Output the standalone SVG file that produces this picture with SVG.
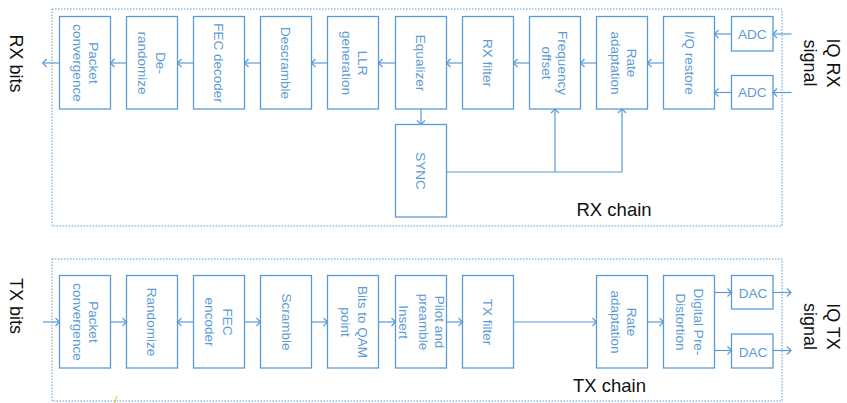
<svg xmlns="http://www.w3.org/2000/svg" width="847" height="403" viewBox="0 0 847 403">
<defs>
<style>
.bg{fill:#ffffff}
.frame{fill:none;stroke:#5b9bd5;stroke-width:1;stroke-dasharray:1.5 1.5}
.box{fill:#ffffff;stroke:#5b9bd5;stroke-width:1.3}
.lbl{font-family:"Liberation Sans",Arial,sans-serif;font-size:13.5px;fill:#5b9bd5;text-anchor:middle}
.big{font-family:"Liberation Sans",Arial,sans-serif;font-size:18.5px;fill:#111111}
.bigm{font-family:"Liberation Sans",Arial,sans-serif;font-size:18px;fill:#111111;text-anchor:middle}
.con{fill:none;stroke:#5b9bd5;stroke-width:1.2}
</style>
<marker id="arr" markerUnits="userSpaceOnUse" markerWidth="12" markerHeight="12" viewBox="-6 -6 12 12" refX="0" refY="0" orient="auto">
<path d="M -4 -4 L 0 0 L -4 4" fill="none" stroke="#5b9bd5" stroke-width="1.2"/>
</marker>
</defs>
<rect class="bg" x="0" y="0" width="847" height="403"/>

<g id="frames">
<rect class="frame" x="52" y="9" width="730" height="217"/>
<rect class="frame" x="52" y="259" width="730" height="142"/>
</g>

<g id="labels">
<text class="bigm" transform="translate(10,63.5) rotate(90)">RX bits</text>
<text class="bigm" transform="translate(10,306) rotate(90)">TX bits</text>
<text class="bigm" transform="translate(826.5,63) rotate(90)"><tspan x="0" y="0">IQ RX</tspan><tspan x="0" y="22.5">signal</tspan></text>
<text class="bigm" transform="translate(826.5,326.5) rotate(90)"><tspan x="0" y="0">IQ TX</tspan><tspan x="0" y="22.5">signal</tspan></text>
<text class="big" x="576.5" y="216">RX chain</text>
<text class="big" x="573" y="391.5">TX chain</text>
</g>

<g id="rx-packet"><rect class="box" x="59.5" y="16.5" width="51" height="92.5"/><text class="lbl" transform="translate(85,63) rotate(90)"><tspan x="0" y="-4.3">Packet</tspan><tspan x="0" y="11.7">convergence</tspan></text></g>
<g id="rx-derandomize"><rect class="box" x="126.5" y="16.5" width="51" height="92.5"/><text class="lbl" transform="translate(152,63) rotate(90)"><tspan x="0" y="-4">De-</tspan><tspan x="0" y="14.5">randomize</tspan></text></g>
<g id="rx-fec-decoder"><rect class="box" x="193.5" y="16.5" width="51" height="92.5"/><text class="lbl" transform="translate(219,63) rotate(90)" y="5.5">FEC decoder</text></g>
<g id="rx-descramble"><rect class="box" x="260.5" y="16.5" width="51" height="92.5"/><text class="lbl" transform="translate(286,63) rotate(90)" y="4.7">Descramble</text></g>
<g id="rx-llr"><rect class="box" x="327.5" y="16.5" width="51" height="92.5"/><text class="lbl" transform="translate(353,63) rotate(90)"><tspan x="0" y="-4.8">LLR</tspan><tspan x="0" y="11.4">generation</tspan></text></g>
<g id="rx-equalizer"><rect class="box" x="395.5" y="16.5" width="51" height="92.5"/><text class="lbl" transform="translate(421,63) rotate(90)" y="5">Equalizer</text></g>
<g id="rx-filter"><rect class="box" x="462.5" y="16.5" width="51" height="92.5"/><text class="lbl" transform="translate(488,63) rotate(90)" y="4.7">RX filter</text></g>
<g id="rx-freq-offset"><rect class="box" x="529.5" y="16.5" width="51" height="92.5"/><text class="lbl" transform="translate(555,63) rotate(90)"><tspan x="0" y="-3.3">Frequency</tspan><tspan x="0" y="12.8">offset</tspan></text></g>
<g id="rx-rate"><rect class="box" x="596.5" y="16.5" width="51" height="92.5"/><text class="lbl" transform="translate(622,63) rotate(90)"><tspan x="0" y="-4.7">Rate</tspan><tspan x="0" y="11.5">adaptation</tspan></text></g>
<g id="rx-iq-restore"><rect class="box" x="663.5" y="16.5" width="51" height="92.5"/><text class="lbl" transform="translate(689.5,63) rotate(90)" y="4.7">I/Q restore</text></g>
<g id="rx-adc1"><rect class="box" x="731.5" y="16.5" width="41.5" height="34.5"/><text class="lbl" x="752.3" y="39">ADC</text></g>
<g id="rx-adc2"><rect class="box" x="731.5" y="75.5" width="41.5" height="33.5"/><text class="lbl" x="752.3" y="97">ADC</text></g>
<g id="rx-sync"><rect class="box" x="395.5" y="124.5" width="51" height="92.5"/><text class="lbl" transform="translate(421,171) rotate(90)" y="5">SYNC</text></g>

<g id="tx-packet"><rect class="box" x="59.5" y="275.5" width="51" height="92.5"/><text class="lbl" transform="translate(85,322) rotate(90)"><tspan x="0" y="-3.8">Packet</tspan><tspan x="0" y="12.2">convergence</tspan></text></g>
<g id="tx-randomize"><rect class="box" x="126.5" y="275.5" width="51" height="92.5"/><text class="lbl" transform="translate(152,322) rotate(90)" y="5.3">Randomize</text></g>
<g id="tx-fec-encoder"><rect class="box" x="193.5" y="275.5" width="51" height="92.5"/><text class="lbl" transform="translate(219,322) rotate(90)"><tspan x="0" y="-4.3">FEC</tspan><tspan x="0" y="14">encoder</tspan></text></g>
<g id="tx-scramble"><rect class="box" x="260.5" y="275.5" width="51" height="92.5"/><text class="lbl" transform="translate(286,322) rotate(90)" y="4.5">Scramble</text></g>
<g id="tx-bits-qam"><rect class="box" x="327.5" y="275.5" width="51" height="92.5"/><text class="lbl" transform="translate(353,322) rotate(90)"><tspan x="0" y="-4.8">Bits to QAM</tspan><tspan x="0" y="12.5">point</tspan></text></g>
<g id="tx-pilot"><rect class="box" x="395.5" y="275.5" width="51" height="92.5"/><text class="lbl" transform="translate(421,322) rotate(90)"><tspan x="0" y="-14">Pilot and</tspan><tspan x="0" y="2">preamble</tspan><tspan x="0" y="22.5">Insert</tspan></text></g>
<g id="tx-filter"><rect class="box" x="462.5" y="275.5" width="51" height="92.5"/><text class="lbl" transform="translate(488,322) rotate(90)" y="4.7">TX filter</text></g>
<g id="tx-rate"><rect class="box" x="596.5" y="275.5" width="51" height="92.5"/><text class="lbl" transform="translate(622,322) rotate(90)"><tspan x="0" y="-4.7">Rate</tspan><tspan x="0" y="11.5">adaptation</tspan></text></g>
<g id="tx-dpd"><rect class="box" x="663.5" y="275.5" width="51" height="92.5"/><text class="lbl" transform="translate(689.5,322) rotate(90)"><tspan x="0" y="-4.6">Digital Pre-</tspan><tspan x="0" y="14">Distortion</tspan></text></g>
<g id="tx-dac1"><rect class="box" x="731.5" y="275.5" width="41.5" height="33.5"/><text class="lbl" x="753" y="298">DAC</text></g>
<g id="tx-dac2"><rect class="box" x="731.5" y="334" width="41.5" height="34"/><text class="lbl" x="753" y="357">DAC</text></g>

<g id="connectors">
<line class="con" x1="59.5" y1="63" x2="42.7" y2="63" marker-end="url(#arr)"/>
<line class="con" x1="126.5" y1="63" x2="110.5" y2="63" marker-end="url(#arr)"/>
<line class="con" x1="193.5" y1="63" x2="177.5" y2="63" marker-end="url(#arr)"/>
<line class="con" x1="260.5" y1="63" x2="244.5" y2="63" marker-end="url(#arr)"/>
<line class="con" x1="327.5" y1="63" x2="311.5" y2="63" marker-end="url(#arr)"/>
<line class="con" x1="395.5" y1="63" x2="378.5" y2="63" marker-end="url(#arr)"/>
<line class="con" x1="462.5" y1="63" x2="446.5" y2="63" marker-end="url(#arr)"/>
<line class="con" x1="529.5" y1="63" x2="513.5" y2="63" marker-end="url(#arr)"/>
<line class="con" x1="596.5" y1="63" x2="580.5" y2="63" marker-end="url(#arr)"/>
<line class="con" x1="663.5" y1="63" x2="647.5" y2="63" marker-end="url(#arr)"/>
<line class="con" x1="731.5" y1="34" x2="714.5" y2="34" marker-end="url(#arr)"/>
<line class="con" x1="731.5" y1="92.5" x2="714.5" y2="92.5" marker-end="url(#arr)"/>
<line class="con" x1="791.5" y1="34" x2="773" y2="34" marker-end="url(#arr)"/>
<line class="con" x1="791.5" y1="92.5" x2="773" y2="92.5" marker-end="url(#arr)"/>
<line class="con" x1="421" y1="109" x2="421" y2="124.5" marker-end="url(#arr)"/>
<polyline class="con" points="446.5,172 622,172 622,109" marker-end="url(#arr)"/>
<line class="con" x1="555" y1="172" x2="555" y2="109" marker-end="url(#arr)"/>

<line class="con" x1="43" y1="322" x2="59.5" y2="322" marker-end="url(#arr)"/>
<line class="con" x1="110.5" y1="322" x2="126.5" y2="322" marker-end="url(#arr)"/>
<line class="con" x1="193.5" y1="322" x2="177.5" y2="322" marker-end="url(#arr)"/>
<line class="con" x1="244.5" y1="322" x2="260.5" y2="322" marker-end="url(#arr)"/>
<line class="con" x1="311.5" y1="322" x2="327.5" y2="322" marker-end="url(#arr)"/>
<line class="con" x1="378.5" y1="322" x2="395.5" y2="322" marker-end="url(#arr)"/>
<line class="con" x1="446.5" y1="322" x2="462.5" y2="322" marker-end="url(#arr)"/>
<line class="con" x1="513.5" y1="322" x2="596.5" y2="322" marker-end="url(#arr)"/>
<line class="con" x1="647.5" y1="322" x2="663.5" y2="322" marker-end="url(#arr)"/>
<line class="con" x1="714.5" y1="292.5" x2="731.5" y2="292.5" marker-end="url(#arr)"/>
<line class="con" x1="714.5" y1="350.5" x2="731.5" y2="350.5" marker-end="url(#arr)"/>
<line class="con" x1="773" y1="292.5" x2="791" y2="292.5" marker-end="url(#arr)"/>
<line class="con" x1="773" y1="350.5" x2="791" y2="350.5" marker-end="url(#arr)"/>
</g>

<line x1="117" y1="396" x2="114.5" y2="403" stroke="#f2b632" stroke-width="1"/>
</svg>
